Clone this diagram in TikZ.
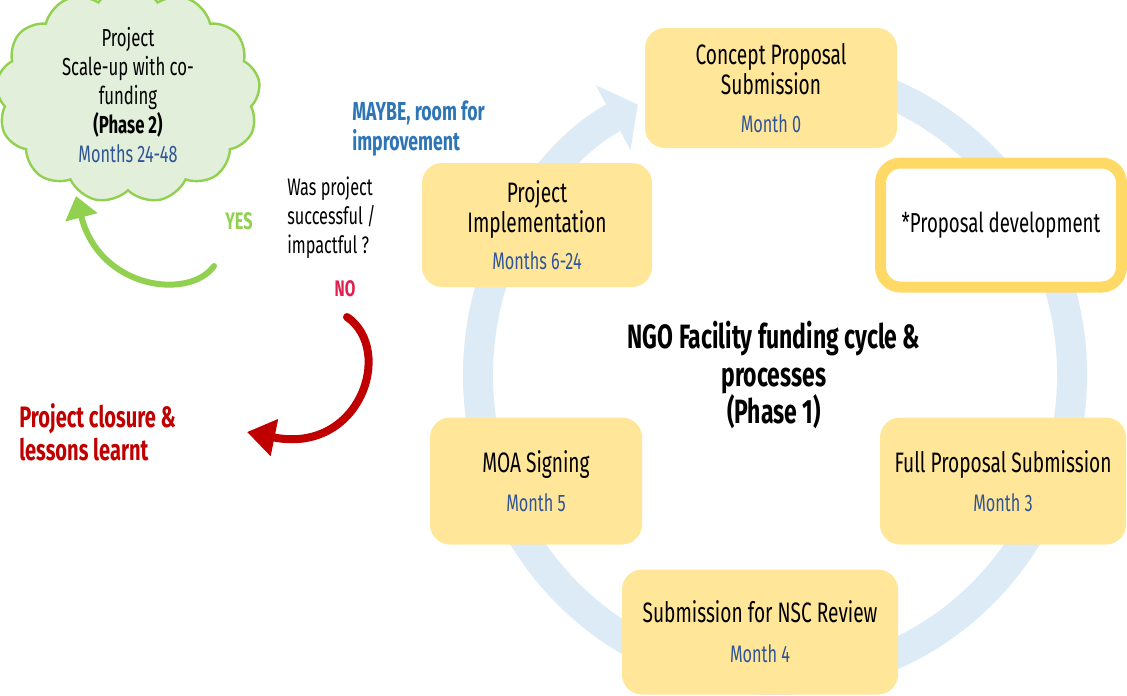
\documentclass[tikz,border=0pt]{standalone}
\usepackage{fontspec}
\setmainfont{Fira Sans}[FakeStretch=0.68]
\usetikzlibrary{
  arrows.meta,
  positioning,
  calc,
  shapes.symbols
}

\definecolor{stepfill}{RGB}{255,230,153}
\definecolor{stepedge}{RGB}{255,217,102}
\definecolor{monthblue}{RGB}{47,85,151}
\definecolor{maybeblue}{RGB}{46,117,182}
\definecolor{ringblue}{RGB}{221,235,247}
\definecolor{yesgreen}{RGB}{146,208,80}
\definecolor{cloudfill}{RGB}{226,239,218}
\definecolor{nored}{RGB}{224,30,80}
\definecolor{closurered}{RGB}{192,0,0}

% month line under a step title
\newcommand{\mon}[1]{{\color{monthblue}\fontsize{17}{20}\selectfont #1}}

\begin{document}
\begin{tikzpicture}[
        x=0.25mm, y=-0.25mm,
        stepbox/.style={fill=stepfill, rounded corners=5mm, align=center,
            inner sep=0pt, font=\fontsize{20}{21.5}\selectfont},
        notebox/.style={draw=stepedge, line width=2.75mm, fill=white, rounded corners=5mm,
            align=center, inner sep=0pt, font=\fontsize{19.5}{21.5}\selectfont},
        sidetext/.style={align=left, inner sep=0pt, anchor=north west},
        curvearrow/.style={line width=1.5mm, line cap=round}
    ]
        \useasboundingbox (0,0) rectangle (1127,695);

        % Ciclo de fundo
        \coordinate (hub) at (775,375);
        \draw[ringblue, line width=7.5mm, -{Triangle[width=18mm,length=7mm]}]
            ($(hub)+(80:74.25mm and 76.25mm)$)
            arc[start angle=80, end angle=-242.5, x radius=74.25mm, y radius=76.25mm];

        % Etapas do ciclo
        \node[stepbox, minimum width=63mm, minimum height=30mm] (concept) at (771,88)
            {Concept Proposal\\Submission\\[5pt]\mon{Month 0}};
        \node[notebox, minimum width=60.25mm, minimum height=31mm] (devel) at (1001,225)
            {*Proposal development};
        \node[stepbox, minimum width=61.5mm, minimum height=31.75mm] (full) at (1003,481)
            {Full Proposal Submission\\[6pt]\mon{Month 3}};
        \node[stepbox, minimum width=69mm, minimum height=31.25mm] (nsc) at (760,632)
            {Submission for NSC Review\\[7pt]\mon{Month 4}};
        \node[stepbox, minimum width=53mm, minimum height=31.75mm] (moa) at (536,481)
            {MOA Signing\\[6pt]\mon{Month 5}};
        \node[stepbox, minimum width=57.5mm, minimum height=31mm] (impl) at (537,225)
            {Project\\Implementation\\[5pt]\mon{Months 6-24}};

        % Titulo central
        \node[align=center, font=\fontsize{24}{27}\bfseries] (title) at (774,375)
            {NGO Facility funding cycle \&\\processes\\(Phase 1)};

        % Avaliacao do projeto
        \node[sidetext, font=\fontsize{18.5}{21.5}\bfseries, maybeblue] (maybe) at (352,100)
            {MAYBE, room for\\improvement};
        \node[sidetext, font=\fontsize{17}{20.5}\selectfont] (question) at (287,177)
            {Was project\\successful /\\impactful ?};
        \node[font=\fontsize{17}{18}\bfseries, yesgreen] (yes) at (239,221) {YES};
        \node[font=\fontsize{16}{18}\bfseries, nored] (no) at (345,289) {NO};

        % Fase 2
        \node[cloud, cloud puffs=13, cloud puff arc=110, aspect=1.3, draw=yesgreen, line width=0.6mm,
            fill=cloudfill, minimum width=61mm, minimum height=47mm, align=center, inner sep=0pt,
            font=\fontsize{17.5}{20.5}\selectfont] (scale) at (128,95)
            {Project\\Scale-up with co-\\funding\\\textbf{(Phase 2)}\\\mon{Months 24-48}};

        % Encerramento
        \node[sidetext, font=\fontsize{21}{23.5}\bfseries, closurered] (closure) at (19,403)
            {Project closure \&\\lessons learnt};

        % Setas de decisao
        \coordinate (yesfrom) at (214,266);
        \coordinate (yesto) at (76,196);
        \draw[curvearrow, yesgreen, -{Triangle[width=8mm,length=5.5mm]}]
            (yesfrom) .. controls (190,300) and (100,290) .. (yesto);
        \coordinate (nofrom) at (347,317);
        \coordinate (noto) at (247,432);
        \draw[curvearrow, closurered, line width=2mm, -{Triangle[width=9mm,length=7mm]}]
            (nofrom) .. controls (395,350) and (360,455) .. (noto);
\end{tikzpicture}
\end{document}
